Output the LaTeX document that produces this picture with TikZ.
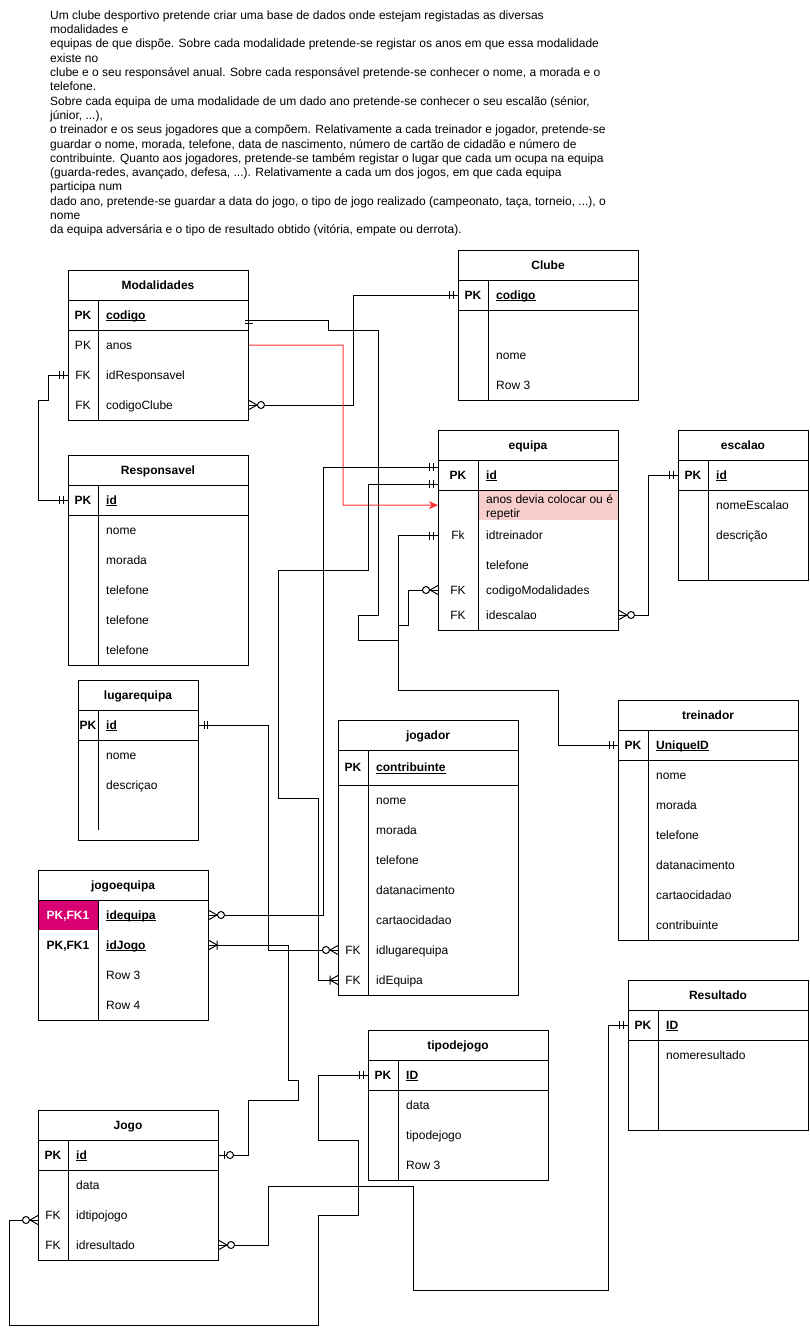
\documentclass[tikz,border=0pt]{standalone}
\usepackage{fontspec}
\setmainfont{Liberation Sans}
\usetikzlibrary{arrows.meta}

\definecolor{notered}{HTML}{FF3333}
\definecolor{notefill}{HTML}{F8CECC}
\definecolor{keymagenta}{HTML}{D80073}

\newcommand\fs{\fontsize{12}{14.3}\selectfont}
% bold, underlined primary-key field name
\newcommand\pkfield[1]{\setbox0\hbox{\bfseries #1}\rlap{\rule[-2pt]{\wd0}{0.9pt}}\box0}

% table frame with title: name, x, y, width, height, title
\newcommand\ertable[6]{%
  \node[tbl, minimum width=#4pt, minimum height=#5pt] (#1) at (#2,#3) {};
  \node[ttl] (#1-title) at (#2+#4/2,#3+15) {#6};
  \draw[tline] (#2,#3+30) -- (#2+#4,#3+30);
}

% crow's foot end markers: point on the table edge, direction pointing away from it
\newcommand\mkone[2]{\begin{scope}[shift={#1},rotate=#2]
  \draw[conn] (5,-4) -- (5,4) (8.5,-4) -- (8.5,4);\end{scope}}
\newcommand\mkzeromany[2]{\begin{scope}[shift={#1},rotate=#2]
  \draw[conn] (0,-4.5) -- (8,0) -- (0,4.5);
  \draw[conn,fill=white] (12,0) circle[radius=3.5];\end{scope}}
\newcommand\mkonemany[2]{\begin{scope}[shift={#1},rotate=#2]
  \draw[conn] (0,-4.5) -- (8,0) -- (0,4.5) (8,-4.5) -- (8,4.5);\end{scope}}
\newcommand\mkzeroone[2]{\begin{scope}[shift={#1},rotate=#2]
  \draw[conn] (5,-4) -- (5,4);
  \draw[conn,fill=white] (11,0) circle[radius=3.5];\end{scope}}

\begin{document}
\begin{tikzpicture}[x=1pt,y=-1pt,
  tbl/.style={draw,line width=1pt,inner sep=0pt,anchor=north west},
  ttl/.style={font=\fs\bfseries,inner sep=0pt,text height=8.6pt,text depth=0pt},
  fld/.style={font=\fs,anchor=west,inner sep=0pt,text height=8.6pt,text depth=0pt},
  keycell/.style={font=\fs,inner sep=0pt,text height=8.6pt,text depth=0pt},
  tline/.style={line width=1pt},
  conn/.style={line width=1pt},
  para/.style={font=\fs,anchor=base west,inner sep=0pt},
  note/.style={line width=1pt,draw=notered,-{Stealth[length=9pt,width=8pt,inset=2.5pt]}},
]
\useasboundingbox (0,0) rectangle (809,1335);
\fill[white] (0,0) rectangle (809,1335);

% problem statement
\node[para] (p1)  at (50,19.3)  {Um clube desportivo pretende criar uma base de dados onde estejam registadas as diversas};
\node[para] (p2)  at (50,33.6)  {modalidades e};
\node[para] (p3)  at (50,47.9)  {equipas de que dispõe. Sobre cada modalidade pretende-se registar os anos em que essa modalidade};
\node[para] (p4)  at (50,62.2)  {existe no};
\node[para] (p5)  at (50,76.5)  {clube e o seu responsável anual. Sobre cada responsável pretende-se conhecer o nome, a morada e o};
\node[para] (p6)  at (50,90.8)  {telefone.};
\node[para] (p7)  at (50,105.1) {Sobre cada equipa de uma modalidade de um dado ano pretende-se conhecer o seu escalão (sénior,};
\node[para] (p8)  at (50,119.4) {júnior, ...),};
\node[para] (p9)  at (50,133.7) {o treinador e os seus jogadores que a compõem. Relativamente a cada treinador e jogador, pretende-se};
\node[para] (p10) at (50,148.0) {guardar o nome, morada, telefone, data de nascimento, número de cartão de cidadão e número de};
\node[para] (p11) at (50,162.3) {contribuinte. Quanto aos jogadores, pretende-se também registar o lugar que cada um ocupa na equipa};
\node[para] (p12) at (50,176.6) {(guarda-redes, avançado, defesa, ...). Relativamente a cada um dos jogos, em que cada equipa};
\node[para] (p13) at (50,190.9) {participa num};
\node[para] (p14) at (50,205.2) {dado ano, pretende-se guardar a data do jogo, o tipo de jogo realizado (campeonato, taça, torneio, ...), o};
\node[para] (p15) at (50,219.5) {nome};
\node[para] (p16) at (50,233.8) {da equipa adversária e o tipo de resultado obtido (vitória, empate ou derrota).};

% Modalidades
\ertable{mod}{68}{270}{180}{150}{Modalidades}
\draw[tline] (68,330) -- (248,330) (98,300) -- (98,420);
\node[keycell] (mod-k1) at (83,315) {\textbf{PK}};
\node[fld] (mod-codigo) at (106,315) {\pkfield{codigo}};
\node[keycell] (mod-k2) at (83,345) {PK};
\node[fld] (mod-anos) at (106,345) {anos};
\node[keycell] (mod-k3) at (83,375) {FK};
\node[fld] (mod-idResp) at (106,375) {idResponsavel};
\node[keycell] (mod-k4) at (83,405) {FK};
\node[fld] (mod-codClube) at (106,405) {codigoClube};

% Responsavel
\ertable{resp}{68}{455}{180}{210}{Responsavel}
\draw[tline] (68,515) -- (248,515) (98,485) -- (98,665);
\node[keycell] (resp-k1) at (83,500) {\textbf{PK}};
\node[fld] (resp-id) at (106,500) {\pkfield{id}};
\node[fld] (resp-nome) at (106,530) {nome};
\node[fld] (resp-morada) at (106,560) {morada};
\node[fld] (resp-tel1) at (106,590) {telefone};
\node[fld] (resp-tel2) at (106,620) {telefone};
\node[fld] (resp-tel3) at (106,650) {telefone};

% Clube
\ertable{clube}{458}{250}{180}{150}{Clube}
\draw[tline] (458,310) -- (638,310) (488,280) -- (488,400);
\node[keycell] (clube-k1) at (473,295) {\textbf{PK}};
\node[fld] (clube-codigo) at (496,295) {\pkfield{codigo}};
\node[fld] (clube-nome) at (496,355) {nome};
\node[fld] (clube-row3) at (496,385) {Row 3};

% equipa
\node[fill=notefill,inner sep=0pt,minimum width=140pt,minimum height=30pt,anchor=north west] (eq-pink) at (478,490) {};
\ertable{eq}{438}{430}{180}{200}{equipa}
\draw[tline] (438,490) -- (618,490) (478,460) -- (478,630);
\node[keycell] (eq-k1) at (458,475) {\textbf{PK}};
\node[fld] (eq-id) at (486,475) {\pkfield{id}};
\node[fld] (eq-note1) at (486,499.5) {anos devia colocar ou é};
\node[fld] (eq-note2) at (486,513.5) {repetir};
\node[keycell] (eq-k2) at (458,535.5) {Fk};
\node[fld] (eq-idtre) at (486,535.5) {idtreinador};
\node[fld] (eq-tel) at (486,565) {telefone};
\node[keycell] (eq-k3) at (458,590) {FK};
\node[fld] (eq-codMod) at (486,590) {codigoModalidades};
\node[keycell] (eq-k4) at (458,615) {FK};
\node[fld] (eq-idesc) at (486,615) {idescalao};

% escalao
\ertable{esc}{678}{430}{130}{150}{escalao}
\draw[tline] (678,490) -- (808,490) (708,460) -- (708,580);
\node[keycell] (esc-k1) at (693,475) {\textbf{PK}};
\node[fld] (esc-id) at (716,475) {\pkfield{id}};
\node[fld] (esc-nome) at (716,505) {nomeEscalao};
\node[fld] (esc-desc) at (716,535) {descrição};

% treinador
\ertable{tre}{618}{700}{180}{240}{treinador}
\draw[tline] (618,760) -- (798,760) (648,730) -- (648,940);
\node[keycell] (tre-k1) at (633,745) {\textbf{PK}};
\node[fld] (tre-uid) at (656,745) {\pkfield{UniqueID}};
\node[fld] (tre-nome) at (656,775) {nome};
\node[fld] (tre-morada) at (656,805) {morada};
\node[fld] (tre-tel) at (656,835) {telefone};
\node[fld] (tre-data) at (656,865) {datanacimento};
\node[fld] (tre-cc) at (656,895) {cartaocidadao};
\node[fld] (tre-nif) at (656,925) {contribuinte};

% lugarequipa
\ertable{lug}{78}{680}{120}{160}{lugarequipa}
\draw[tline] (78,740) -- (198,740) (98,710) -- (98,830);
\node[keycell] (lug-k1) at (88,725) {\textbf{PK}};
\node[fld] (lug-id) at (106,725) {\pkfield{id}};
\node[fld] (lug-nome) at (106,755) {nome};
\node[fld] (lug-desc) at (106,785) {descriçao};

% jogador
\ertable{jog}{338}{720}{180}{275}{jogador}
\draw[tline] (338,785) -- (518,785) (368,750) -- (368,995);
\node[keycell] (jog-k1) at (353,767.5) {\textbf{PK}};
\node[fld] (jog-nif) at (376,767.5) {\pkfield{contribuinte}};
\node[fld] (jog-nome) at (376,800) {nome};
\node[fld] (jog-morada) at (376,830) {morada};
\node[fld] (jog-tel) at (376,860) {telefone};
\node[fld] (jog-data) at (376,890) {datanacimento};
\node[fld] (jog-cc) at (376,920) {cartaocidadao};
\node[keycell] (jog-k2) at (353,950) {FK};
\node[fld] (jog-idlug) at (376,950) {idlugarequipa};
\node[keycell] (jog-k3) at (353,980) {FK};
\node[fld] (jog-ideq) at (376,980) {idEquipa};

% jogoequipa
\node[fill=keymagenta,inner sep=0pt,minimum width=60pt,minimum height=30pt,anchor=north west] (je-keyfill) at (38,900) {};
\ertable{je}{38}{870}{170}{150}{jogoequipa}
\draw[tline] (98,900) -- (98,1020);
\node[keycell,text=white] (je-k1) at (68,915) {\textbf{PK,FK1}};
\node[fld] (je-ideq) at (106,915) {\pkfield{idequipa}};
\node[keycell] (je-k2) at (68,945) {\textbf{PK,FK1}};
\node[fld] (je-idjogo) at (106,945) {\pkfield{idJogo}};
\node[fld] (je-row3) at (106,975) {Row 3};
\node[fld] (je-row4) at (106,1005) {Row 4};

% Jogo
\ertable{jogo}{38}{1110}{180}{150}{Jogo}
\draw[tline] (38,1170) -- (218,1170) (68,1140) -- (68,1260);
\node[keycell] (jogo-k1) at (53,1155) {\textbf{PK}};
\node[fld] (jogo-id) at (76,1155) {\pkfield{id}};
\node[fld] (jogo-data) at (76,1185) {data};
\node[keycell] (jogo-k2) at (53,1215) {FK};
\node[fld] (jogo-idtipo) at (76,1215) {idtipojogo};
\node[keycell] (jogo-k3) at (53,1245) {FK};
\node[fld] (jogo-idres) at (76,1245) {idresultado};

% tipodejogo
\ertable{tip}{368}{1030}{180}{150}{tipodejogo}
\draw[tline] (368,1090) -- (548,1090) (398,1060) -- (398,1180);
\node[keycell] (tip-k1) at (383,1075) {\textbf{PK}};
\node[fld] (tip-id) at (406,1075) {\pkfield{ID}};
\node[fld] (tip-data) at (406,1105) {data};
\node[fld] (tip-tipo) at (406,1135) {tipodejogo};
\node[fld] (tip-row3) at (406,1165) {Row 3};

% Resultado
\ertable{res}{628}{980}{180}{150}{Resultado}
\draw[tline] (628,1040) -- (808,1040) (658,1010) -- (658,1130);
\node[keycell] (res-k1) at (643,1025) {\textbf{PK}};
\node[fld] (res-id) at (666,1025) {\pkfield{ID}};
\node[fld] (res-nome) at (666,1055) {nomeresultado};

% attachment points that sit off a row centre
\path (mod-codigo -| mod.east) ++(0,5) coordinate (modPK);
\path (eq-id -| eq.west) ++(0,-8) coordinate (eqIdA);
\path (eq-id -| eq.west) ++(0,9) coordinate (eqIdB);
\path (jogo-idtipo -| jogo.west) ++(0,5) coordinate (jogoTipo);

% relationships
\draw[conn] (modPK) -| (328,330) -| (378,615) -| (358,640) -| (398,625) -| (408,590) -- (eq-codMod -| eq.west);
\draw[conn] (eq-idtre -| eq.west) -| (398,690) -| (558,745) -- (tre-uid -| tre.west);
\draw[conn] (mod-codClube -| mod.east) -| (353,295) -- (clube-codigo -| clube.west);
\draw[conn] (mod-idResp -| mod.west) -| (48,400) -| (38,500) -- (resp-id -| resp.west);
\draw[note] (mod-anos -| mod.east) -| (343,505) -- (eq-pink -| eq.west);
\draw[conn] (eqIdA) -| (323,915) -- (je-ideq -| je.east);
\draw[conn] (eqIdB) -| (368,570) -| (278,798) -| (318,980) -- (jog-ideq -| jog.west);
\draw[conn] (lug-id -| lug.east) -| (268,950) -- (jog-idlug -| jog.west);
\draw[conn] (je-idjogo -| je.east) -| (288,1080) -| (298,1100) -| (248,1155) -- (jogo-id -| jogo.east);
\draw[conn] (tip-id -| tip.west) -| (318,1140) -| (358,1215) -| (318,1325) -| (9,1220) -- (jogoTipo);
\draw[conn] (jogo-idres -| jogo.east) -| (268,1186) -| (413,1290) -| (608,1025) -- (res-id -| res.west);
\draw[conn] (eq-idesc -| eq.east) -| (648,475) -- (esc-id -| esc.west);

% end markers
\begin{scope}[shift={(modPK)}]
  \draw[conn] (-4,0) -- (4,0) (-4,3.5) -- (4,3.5);
\end{scope}
\mkzeromany{(eq-codMod -| eq.west)}{180}
\mkone{(eq-idtre -| eq.west)}{180}
\mkone{(tre-uid -| tre.west)}{180}
\mkzeromany{(mod-codClube -| mod.east)}{0}
\mkone{(clube-codigo -| clube.west)}{180}
\mkone{(mod-idResp -| mod.west)}{180}
\mkone{(resp-id -| resp.west)}{180}
\mkone{(eqIdA)}{180}
\mkzeromany{(je-ideq -| je.east)}{0}
\mkone{(eqIdB)}{180}
\mkonemany{(jog-ideq -| jog.west)}{180}
\mkone{(lug-id -| lug.east)}{0}
\mkzeromany{(jog-idlug -| jog.west)}{180}
\mkonemany{(je-idjogo -| je.east)}{0}
\mkzeroone{(jogo-id -| jogo.east)}{0}
\mkone{(tip-id -| tip.west)}{180}
\mkzeromany{(jogoTipo)}{180}
\mkzeromany{(jogo-idres -| jogo.east)}{0}
\mkone{(res-id -| res.west)}{180}
\mkzeromany{(eq-idesc -| eq.east)}{0}
\mkone{(esc-id -| esc.west)}{180}
\end{tikzpicture}
\end{document}
